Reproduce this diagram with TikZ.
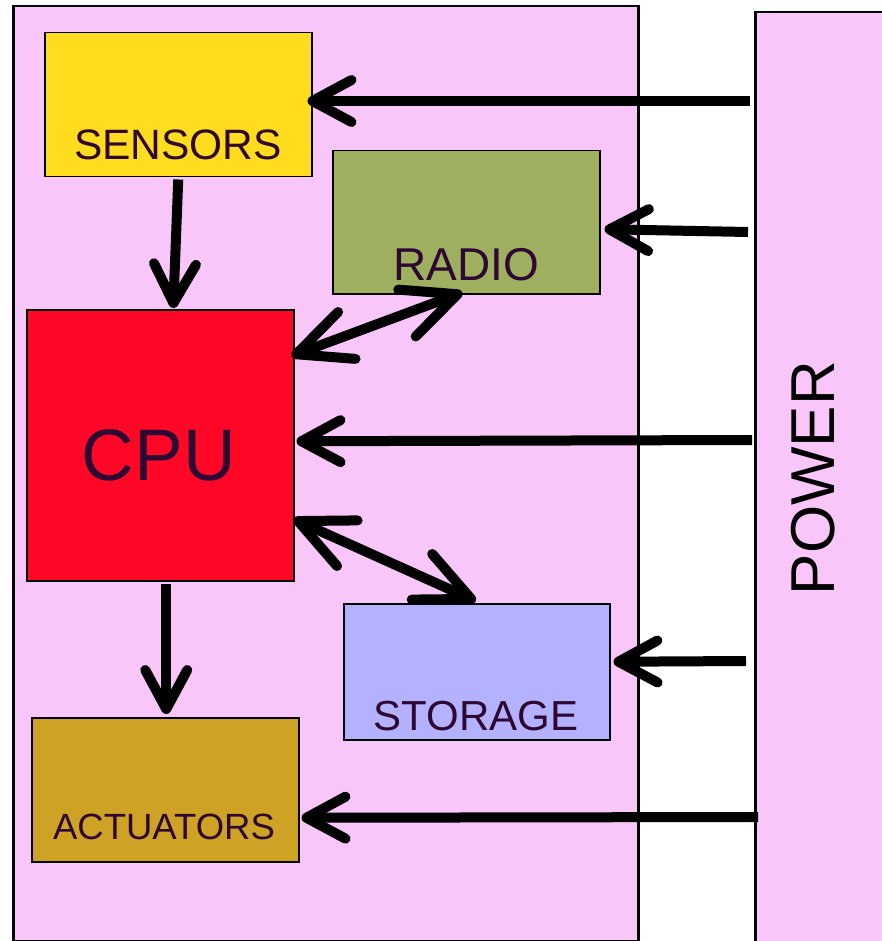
\documentclass[tikz,border=0pt]{standalone}
\usepackage{fontspec}
\setmainfont{Liberation Sans}
\usetikzlibrary{arrows.meta,calc}
\definecolor{bgpink}{RGB}{248,198,248}
\definecolor{sensy}{RGB}{255,220,30}
\definecolor{radiog}{RGB}{158,176,96}
\definecolor{cpur}{RGB}{255,8,40}
\definecolor{storb}{RGB}{180,178,255}
\definecolor{actg}{RGB}{206,162,36}
\definecolor{txtp}{RGB}{46,8,50}
\tikzset{
  blk/.style={draw=black, line width=1.5pt, anchor=north west, inner sep=0pt},
  lbl/.style={text=txtp, inner sep=0pt, anchor=center},
  shortarr/.style={line width=10pt, -{Straight Barb[length=39pt,width=42pt,round]}},
  longarr/.style={line width=10pt, {Straight Barb[length=54pt,width=50pt,round]}-{Straight Barb[length=54pt,width=50pt,round]}},
}
\begin{document}
\begin{tikzpicture}[x=1pt,y=-1pt]
\useasboundingbox (0,0) rectangle (882,941);
% outer box and power box
\node[blk, fill=bgpink, line width=2.5pt, minimum width=625pt, minimum height=935pt] (board) at (12,5) {};
\node[blk, fill=bgpink, line width=2.5pt, minimum width=200pt, minimum height=1000pt] (power) at (754,11) {};
\node[rotate=90, font=\fontsize{62}{62}\selectfont, inner sep=0pt] (powerT) at (813,478) {POWER};
% blocks
\node[blk, fill=sensy, minimum width=267pt, minimum height=144pt] (sensors) at (44,32) {};
\node[blk, fill=radiog, minimum width=267pt, minimum height=143pt] (radio) at (332,150) {};
\node[blk, fill=cpur, minimum width=267pt, minimum height=271pt] (cpu) at (26,309) {};
\node[blk, fill=storb, minimum width=266pt, minimum height=136pt] (storage) at (343,603) {};
\node[blk, fill=actg, minimum width=267pt, minimum height=144pt] (actuators) at (31,717) {};
% labels
\node[lbl, font=\fontsize{42.5}{42.5}\selectfont] (sensorsT) at (178,145) {SENSORS};
\node[lbl, font=\fontsize{46}{46}\selectfont] (radioT) at (466,265) {RADIO};
\node[lbl, font=\fontsize{73}{73}\selectfont] (cpuT) at (159,455) {CPU};
\node[lbl, font=\fontsize{42}{42}\selectfont] (storageT) at (476,716) {STORAGE};
\node[lbl, font=\fontsize{36.5}{36.5}\selectfont] (actuatorsT) at (164,827) {ACTUATORS};
% power arrows
\draw[shortarr] ($(power.north west)+(-4,90)$) -- ($(sensors.north east)+(-5,69)$);
\draw[shortarr] ($(power.north west)+(-6,221)$) -- ($(radio.east)+(4,7)$);
\draw[shortarr] ($(power.north west)+(-2,429)$) -- ($(cpu.east)+(2,-4)$);
\draw[shortarr] ($(power.north west)+(-8,650)$) -- ($(storage.east)+(3,-10)$);
\draw[shortarr] ($(power.north west)+(4,806)$) -- ($(actuators.east)+(2,28)$);
% vertical arrows
\draw[shortarr] ($(sensors.south)+(0,2)$) -- ($(cpu.north)+(13,-1)$);
\draw[shortarr] ($(cpu.south)+(6,2)$) -- ($(actuators.north)+(1,-3)$);
% bidirectional
\draw[longarr] ($(cpu.north east)+(-3,47)$) -- ($(radio.south)+(-4,-2)$);
\draw[longarr] ($(cpu.north east)+(-1,210)$) -- ($(storage.north)+(-1,-2)$);
\end{tikzpicture}
\end{document}
